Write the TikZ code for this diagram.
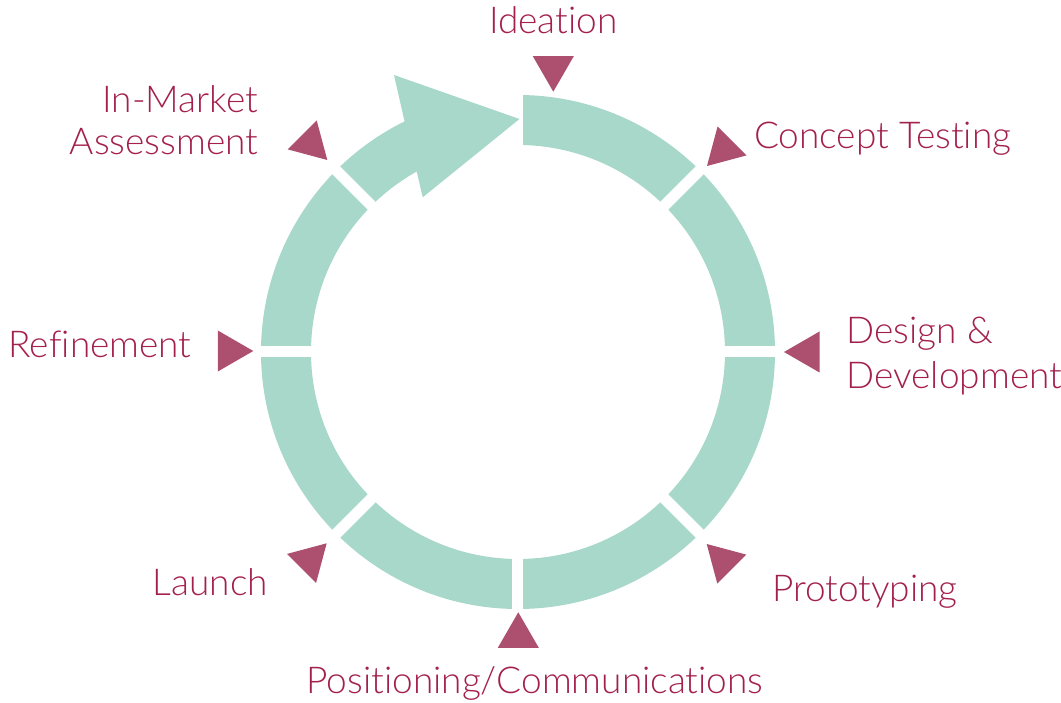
\documentclass[tikz,border=0pt]{standalone}
\usepackage{fontspec}
\setmainfont{Lato}[UprightFont=* Light, Ligatures=NoCommon]
\usepackage{tikz}

\definecolor{ringc}{HTML}{A8D8CA}
\definecolor{markc}{HTML}{AD4F6F}
\definecolor{textc}{HTML}{A3204B}

\tikzset{
  ring/.style={fill=ringc},
  gap/.style={draw=white, line width=11pt},
  marker/.style={fill=markc},
  stage/.style={text=textc, inner sep=0pt, font=\fontsize{37}{44}\selectfont}
}

\begin{document}
\begin{tikzpicture}[x=1pt, y=1pt]
\useasboundingbox (-518,-351) rectangle (543,352);
% ring of seven segments
\fill[ring] (90:257) arc[start angle=90, end angle=-225, radius=257]
  -- (-225:207) arc[start angle=-225, end angle=90, radius=207] -- cycle;
\foreach \a in {90,45,...,-225}
  \draw[gap] (\a:195) -- (\a:270);
% last segment turns into the arrow
\fill[ring] (133.77:257) arc[start angle=133.77, end angle=116.2, radius=257]
  -- (-124,277) -- (1.5,233) -- (-95.3,154.7)
  -- (119.3:207) arc[start angle=119.3, end angle=133.48, radius=207] -- cycle;
% markers: tip and pointing direction
\foreach \x/\y/\d in {35.3/260.3/-90, 189/186/-135, 266/0/180, 188.7/-192/135,
                      0.3/-260.3/90, -191.3/-191.3/45, -264.7/1/0, -190.7/192/-45}
  \fill[marker] (\x,\y) -- ++(\d+150:41) -- ++(\d-90:41) -- cycle;
% stage names
\node[stage, anchor=base] (ideation) at (35.3,318.7) {Ideation};
\node[stage, anchor=base west] (concept) at (236,203.7) {Concept Testing};
\node[stage, anchor=base west] (design) at (328.5,8.7) {Design \&};
\node[stage, anchor=base west] (develop) at (328.5,-36.3) {Development};
\node[stage, anchor=base west] (proto) at (254,-250) {Prototyping};
\node[stage, anchor=base] (position) at (17,-341.3) {Positioning/Communications};
\node[stage, anchor=base east] (launch) at (-250,-244) {Launch};
\node[stage, anchor=base east] (refine) at (-326.3,-5.3) {Refinement};
\node[stage, anchor=base east] (market) at (-259.7,239.3) {In-Market};
\node[stage, anchor=base east] (assess) at (-259.7,197) {Assessment};
\end{tikzpicture}
\end{document}
